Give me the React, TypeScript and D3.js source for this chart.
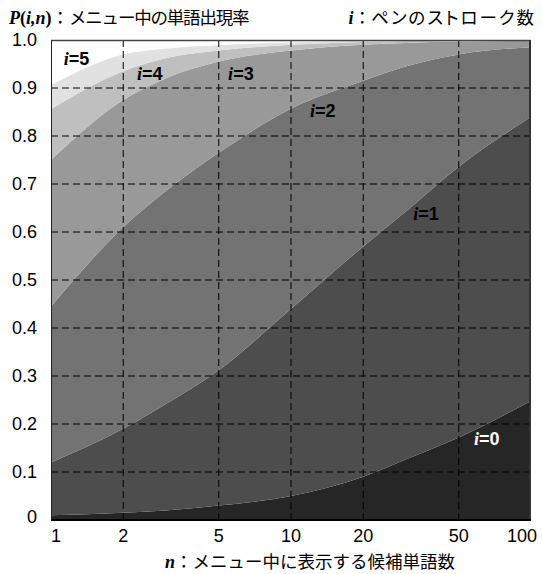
import React from "react";
import * as d3 from "d3";

// number of candidate words shown in the menu (x, log scale)
const nValues = [1, 2, 3, 5, 10, 20, 30, 50, 100];

// P(i,n) for i = 0..5
const pI0 = [0.01, 0.015, 0.02, 0.03, 0.05, 0.09, 0.126, 0.172, 0.248];
const pI1 = [0.12, 0.19, 0.241, 0.312, 0.44, 0.57, 0.642, 0.736, 0.84];
const pI2 = [0.445, 0.61, 0.685, 0.765, 0.857, 0.915, 0.945, 0.97, 0.985];
const pI3 = [0.75, 0.875, 0.92, 0.955, 0.978, 0.99, 0.994, 0.997, 0.998];
const pI4 = [0.856, 0.935, 0.962, 0.978, 0.99, 0.996, 0.998, 0.999, 1.0];
const pI5 = [0.906, 0.97, 0.982, 0.989, 0.995, 0.998, 0.999, 1.0, 1.0];

const curves = [pI0, pI1, pI2, pI3, pI4, pI5];
const bandColors = ["#262626", "#4d4d4d", "#737373", "#999999", "#bfbfbf", "#e1e1e1"];

const xTicks = [1, 2, 5, 10, 20, 50, 100];
const yTicks = [0, 0.1, 0.2, 0.3, 0.4, 0.5, 0.6, 0.7, 0.8, 0.9, 1.0];

// label i=k, left end of its baseline at (n, P)
const labels = [
  { i: 5, n: 1.13, p: 0.948 },
  { i: 4, n: 2.28, p: 0.917 },
  { i: 3, n: 5.47, p: 0.917 },
  { i: 2, n: 12.0, p: 0.84 },
  { i: 1, n: 32.3, p: 0.625 },
  { i: 0, n: 57.9, p: 0.156 },
];

const W = 542;
const H = 574;
const left = 51;
const right = 531;
const top = 40;
const bottom = 520;

const sans = "'Liberation Sans', Arial, sans-serif";
const jp = "'Noto Sans CJK JP', sans-serif";
const serif = "'Liberation Serif', 'Times New Roman', serif";

export default function App() {
  const x = d3.scaleLog().domain([1, 100]).range([left, right]);
  const y = d3.scaleLinear().domain([0, 1]).range([bottom, top]);

  const bands = curves.map((c, k) => {
    const lower = k === 0 ? nValues.map(() => 0) : curves[k - 1];
    const area = d3
      .area<number>()
      .x((j) => x(nValues[j]))
      .y0((j) => y(lower[j]))
      .y1((j) => y(c[j]))
      .curve(d3.curveMonotoneX);
    return area(nValues.map((_, j) => j)) || "";
  });

  const tickLabelX = (t: number) => {
    if (t === 1) return x(t) + 5;
    if (t === 100) return x(t) - 9;
    return x(t);
  };

  return (
    <svg
      width={W}
      height={H}
      style={{ position: "absolute", left: 0, top: 0, background: "#fff" }}
    >
      <rect x={left} y={top} width={right - left} height={bottom - top} fill="#fff" />
      {bands.map((d, k) => (
        <path key={k} d={d} fill={bandColors[k]} />
      ))}

      {/* grid */}
      {yTicks
        .filter((t) => t > 0 && t < 1)
        .map((t) => (
          <line
            key={"h" + t}
            x1={left}
            x2={right}
            y1={y(t)}
            y2={y(t)}
            stroke="#000"
            strokeWidth={1}
            strokeDasharray="7,4"
          />
        ))}
      {xTicks
        .filter((t) => t > 1 && t < 100)
        .map((t) => (
          <line
            key={"v" + t}
            x1={x(t)}
            x2={x(t)}
            y1={top}
            y2={bottom}
            stroke="#000"
            strokeWidth={1}
            strokeDasharray="7,4"
          />
        ))}

      {/* frame */}
      <line x1={left} x2={right} y1={top + 0.5} y2={top + 0.5} stroke="#444" strokeWidth={1.5} />
      <line x1={left + 0.5} x2={left + 0.5} y1={top} y2={bottom} stroke="#222" strokeWidth={1} />
      <line x1={right - 1} x2={right - 1} y1={top} y2={bottom} stroke="#333" strokeWidth={2} />
      <line x1={left} x2={right} y1={bottom} y2={bottom} stroke="#000" strokeWidth={2} />

      {/* y tick labels */}
      {yTicks.map((t) => (
        <text
          key={"yl" + t}
          x={37}
          y={t === 0 ? y(t) - 3 : y(t)}
          textAnchor="end"
          dominantBaseline="central"
          fontFamily={sans}
          fontSize={18}
          fill="#000"
        >
          {t === 0 ? "0" : t.toFixed(1)}
        </text>
      ))}

      {/* x tick labels */}
      {xTicks.map((t) => (
        <text
          key={"xl" + t}
          x={tickLabelX(t)}
          y={542}
          textAnchor="middle"
          fontFamily={sans}
          fontSize={18}
          fill="#000"
        >
          {t}
        </text>
      ))}

      {/* band labels */}
      {labels.map((l) => (
        <text
          key={"lab" + l.i}
          x={x(l.n)}
          y={y(l.p)}
          fontSize={18}
          fontWeight="bold"
          fill={l.i === 0 ? "#fff" : "#000"}
        >
          <tspan fontFamily={serif} fontStyle="italic">
            i
          </tspan>
          <tspan fontFamily={sans}>={l.i}</tspan>
        </text>
      ))}

      {/* titles */}
      <text x={9} y={24} fontSize={17.5} fill="#000">
        <tspan fontFamily={serif} fontWeight="bold" fontStyle="italic" fontSize={18}>
          P
        </tspan>
        <tspan fontFamily={serif} fontWeight="bold" fontSize={18}>
          (
        </tspan>
        <tspan fontFamily={serif} fontWeight="bold" fontStyle="italic" fontSize={18}>
          i,n
        </tspan>
        <tspan fontFamily={serif} fontWeight="bold" fontSize={18}>
          )
        </tspan>
        <tspan fontFamily={jp}>：</tspan>
        <tspan fontFamily={jp} letterSpacing={-1.2}>
          メニュー中の単語出現率
        </tspan>
      </text>
      <text x={536} y={24} textAnchor="end" fontSize={17.5} fill="#000">
        <tspan fontFamily={serif} fontWeight="bold" fontStyle="italic" fontSize={18}>
          i
        </tspan>
        <tspan fontFamily={jp}>：</tspan>
        <tspan
          fontFamily={jp}
          letterSpacing={2}
          style={{ fontFeatureSettings: '"palt"' }}
        >
          ペンのストローク数
        </tspan>
      </text>
      <text x={310} y={568} textAnchor="middle" fontSize={17.5} fill="#000">
        <tspan fontFamily={serif} fontWeight="bold" fontStyle="italic" fontSize={18}>
          n
        </tspan>
        <tspan fontFamily={jp}>：メニュー中に表示する候補単語数</tspan>
      </text>
    </svg>
  );
}
